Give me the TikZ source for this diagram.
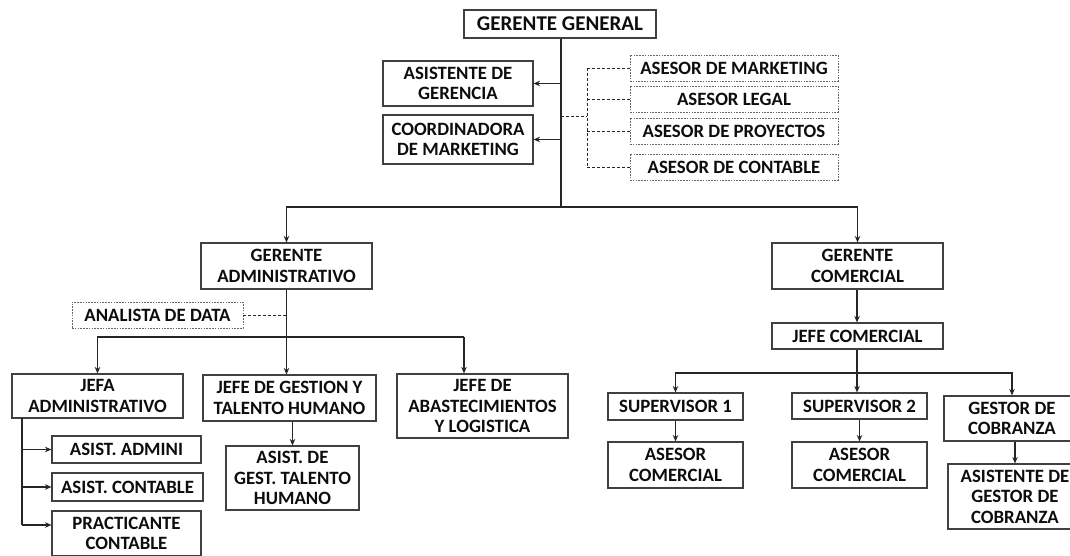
\documentclass[tikz,border=0pt]{standalone}
\usepackage{fontspec}
\setmainfont{Carlito}
\usetikzlibrary{arrows.meta}

\begin{document}
\begin{tikzpicture}[x=1pt, y=-1pt]
            \tikzstyle{box} = [draw=black!75, line width=1.1pt, align=center, inner sep=0pt, text=black!95,
                font=\bfseries\fontsize{18.8}{20.5}\selectfont]
            \tikzstyle{asesor} = [box, draw=black!60, line width=0.9pt, dash pattern=on 1.6pt off 1.2pt]
            \tikzstyle{arr} = [draw=black!85, line width=1.1pt, -{Stealth[length=6.5pt, width=5.5pt]}]
            \tikzstyle{link} = [draw=black!85, line width=1.1pt]
            \tikzstyle{dotlink} = [draw=black!85, line width=0.9pt, dash pattern=on 3pt off 2pt]

            \useasboundingbox (0,0) rectangle (1070,556);

            % top
            \node [box, minimum width=192, minimum height=28, font=\bfseries\fontsize{21}{23}\selectfont] (gg) at (560,24) {GERENTE GENERAL};
            \node [box, minimum width=150, minimum height=45] (asis) at (458,83.5) {ASISTENTE DE\\GERENCIA};
            \node [box, minimum width=150, minimum height=49] (coord) at (458,139.5) {COORDINADORA\\DE MARKETING};
            \node [asesor, minimum width=208, minimum height=26] (amkt) at (734,68) {ASESOR DE MARKETING};
            \node [asesor, minimum width=208, minimum height=26] (alegal) at (734,99) {ASESOR LEGAL};
            \node [asesor, minimum width=208, minimum height=26] (aproy) at (734,131) {ASESOR DE PROYECTOS};
            \node [asesor, minimum width=208, minimum height=26] (acont) at (734,167) {ASESOR DE CONTABLE};

            % administracion
            \node [box, minimum width=171, minimum height=46] (gadm) at (286.5,266) {GERENTE\\ADMINISTRATIVO};
            \node [asesor, minimum width=171, minimum height=26] (data) at (157.5,315) {ANALISTA DE DATA};
            \node [box, minimum width=171, minimum height=44] (jefa) at (97.5,396) {JEFA\\ADMINISTRATIVO};
            \node [box, minimum width=173, minimum height=46] (jgest) at (289.5,398) {JEFE DE GESTION Y\\TALENTO HUMANO};
            \node [box, minimum width=171, minimum height=64] (jabast) at (482.5,406) {JEFE DE\\ABASTECIMIENTOS\\Y LOGISTICA};
            \node [box, minimum width=149, minimum height=27] (aadm) at (126.5,449.5) {ASIST. ADMINI};
            \node [box, minimum width=151, minimum height=28] (acontab) at (127.5,487) {ASIST. CONTABLE};
            \node [box, minimum width=149, minimum height=45] (pract) at (126.5,533.5) {PRACTICANTE\\CONTABLE};
            \node [box, minimum width=133, minimum height=64] (agest) at (292.5,478) {ASIST. DE\\GEST. TALENTO\\HUMANO};

            % comercial
            \node [box, minimum width=171, minimum height=46] (gcom) at (857.5,266) {GERENTE\\COMERCIAL};
            \node [box, minimum width=171, minimum height=26] (jcom) at (857.5,336) {JEFE COMERCIAL};
            \node [box, minimum width=135, minimum height=27] (sup1) at (675.5,406.5) {SUPERVISOR 1};
            \node [box, minimum width=135, minimum height=26] (sup2) at (859.5,406) {SUPERVISOR 2};
            \node [box, minimum width=136, minimum height=45] (gcob) at (1012,418.5) {GESTOR DE\\COBRANZA};
            \node [box, minimum width=135, minimum height=46] (ases1) at (675.5,465) {ASESOR\\COMERCIAL};
            \node [box, minimum width=135, minimum height=46] (ases2) at (859.5,465) {ASESOR\\COMERCIAL};
            \node [box, minimum width=134, minimum height=65] (agcob) at (1015,496.5) {ASISTENTE DE\\GESTOR DE\\COBRANZA};

            % junctions
            \coordinate (top) at (561,207);
            \coordinate (dj) at (587,116);
            \coordinate (lj) at (286.5,337);
            \coordinate (lje) at (464,337);
            \coordinate (jv) at (22,418);
            \coordinate (jb) at (22,525);
            \coordinate (rj) at (857,373);

            % connectors
            \draw [link] (gg.south -| top) -- (top);
            \draw [arr] (top) -| (gadm.north);
            \draw [arr] (top) -| (gcom.north);
            \draw [arr] (asis.east -| top) -- (asis.east);
            \draw [arr] (coord.east -| top) -- (coord.east);
            \draw [dotlink] (dj -| top) -- (dj);
            \draw [dotlink] (amkt.west -| dj) -- (acont.west -| dj);
            \foreach \a in {amkt, alegal, aproy, acont}
                \draw [dotlink] (\a.west -| dj) -- (\a.west);

            \draw [arr] (gadm.south) -- (gadm.south |- jgest.north);
            \draw [dotlink] (data.east) -- (data.east -| gadm.south);
            \draw [arr] (lj) -| (jefa.north);
            \draw [link] (lj) -- (lje);
            \draw [arr] (lje) -- (lje |- jabast.north);
            \draw [link] (jv) -- (jb);
            \draw [arr] (jv |- aadm.west) -- (aadm.west);
            \draw [arr] (jv |- acontab.west) -- (acontab.west);
            \draw [arr] (jb) -- (jb -| pract.west);
            \draw [arr] (agest.north |- jgest.south) -- (agest.north);

            \draw [arr] (gcom.south -| rj) -- (jcom.north -| rj);
            \draw [link] (jcom.south -| rj) -- (rj);
            \draw [arr] (rj) -| (sup1.north);
            \draw [arr] (rj) -| (gcob.north);
            \draw [arr] (rj) -- (rj |- sup2.north);
            \draw [arr] (sup1.south) -- (ases1.north);
            \draw [arr] (sup2.south) -- (ases2.north);
            \draw [arr] (agcob.north |- gcob.south) -- (agcob.north);
\end{tikzpicture}
\end{document}
